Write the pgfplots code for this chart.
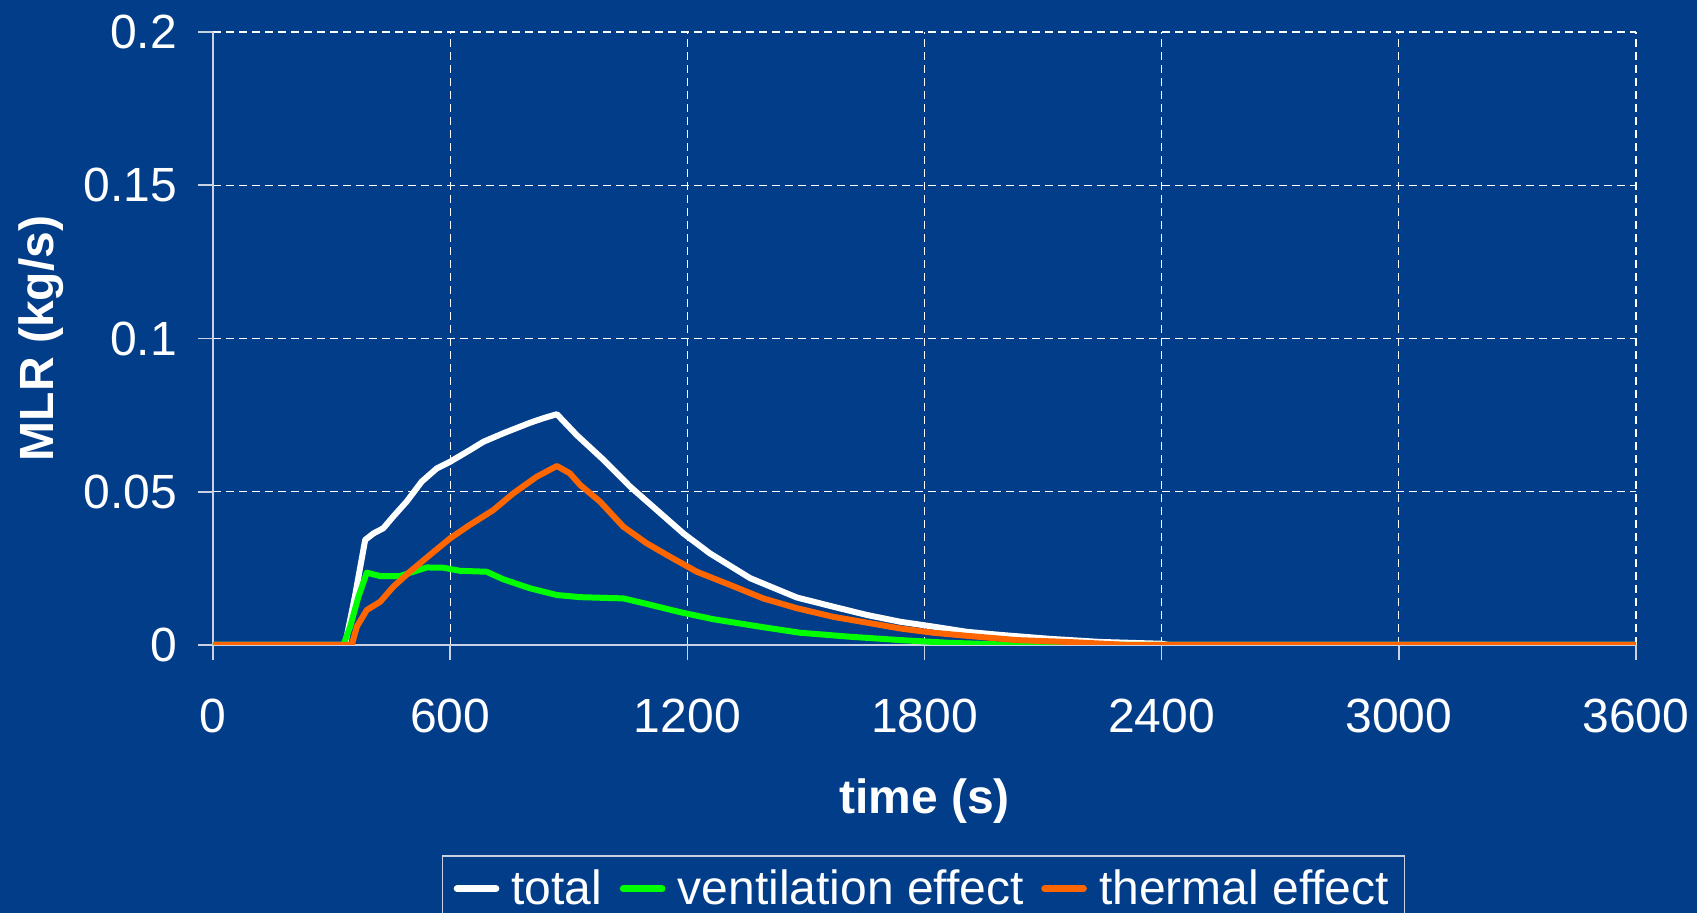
\documentclass[border=0pt]{standalone}
\usepackage{fontspec}
\setmainfont{Liberation Sans}
\usepackage{pgfplots}
\usepackage{pgfplotstable}
\pgfplotsset{compat=1.18}
\definecolor{bg}{RGB}{2,61,138}
\definecolor{axgray}{RGB}{200,210,228}
\definecolor{vgreen}{RGB}{0,255,0}
\definecolor{torange}{RGB}{255,102,0}
\pgfplotstableread{
t v
0 0
334 0
359 0.0158
385 0.0343
406 0.0364
431 0.0381
456 0.0419
490 0.0468
528 0.0533
566 0.0576
600 0.0598
650 0.0636
684 0.0663
735 0.0691
802 0.0725
836 0.0740
870 0.0753
920 0.0685
988 0.0604
1055 0.0517
1123 0.0440
1190 0.0364
1257 0.0299
1359 0.0218
1477 0.0155
1569 0.0125
1654 0.0098
1738 0.0076
1822 0.0060
1907 0.0043
1991 0.0033
2118 0.0020
2244 0.0010
2400 0.0004
2420 0
3600 0
}\total
\pgfplotstableread{
t v
0 0
330 0
347 0.0060
368 0.0158
389 0.0236
423 0.0225
473 0.0225
507 0.0239
541 0.0253
583 0.0252
625 0.0242
692 0.0239
735 0.0214
802 0.0185
870 0.0163
929 0.0156
1038 0.0152
1097 0.0134
1182 0.0107
1266 0.0084
1392 0.0058
1485 0.0040
1611 0.0027
1738 0.0016
1864 0.0007
1991 0.0002
2090 0
3600 0
}\vent
\pgfplotstableread{
t v
0 0
351 0
364 0.0060
389 0.0114
423 0.0141
456 0.0190
498 0.0239
549 0.0294
600 0.0348
650 0.0392
709 0.0440
760 0.0495
819 0.0549
870 0.0584
903 0.0560
929 0.0522
979 0.0468
1038 0.0386
1097 0.0332
1156 0.0288
1224 0.0239
1308 0.0196
1392 0.0152
1477 0.0120
1569 0.0092
1654 0.0073
1738 0.0054
1822 0.0040
1907 0.0030
2033 0.0016
2160 0.0010
2286 0.0002
2320 0
3600 0
}\thermal
\begin{document}
\begin{tikzpicture}
\fill[bg] (0,0) rectangle (848.5pt,456.5pt);
\begin{axis}[
 at={(106.5pt,134pt)}, anchor=south west,
 scale only axis, width=711.5pt, height=306.5pt,
 xmin=0,xmax=3600,ymin=0,ymax=0.2,
 axis x line=bottom, axis y line=left,
 axis line style={-, axgray, line width=1pt},
 xtick={0,600,...,3600}, xticklabels={0,600,1200,1800,2400,3000,3600},
 ytick={0,0.05,0.1,0.15,0.2}, yticklabels={0,0.05,0.1,0.15,0.2},
 tick align=outside, major tick length=7.5pt,
 tick style={axgray, line width=0.8pt},
 grid=major, grid style={white, solid, dash pattern=on 4pt off 2.5pt, line width=0.6pt},
 ticklabel style={font=\fontsize{24}{28}\selectfont, text=white},
 xticklabel style={yshift=-16pt},
 yticklabel style={xshift=-7pt},
 xlabel={time (s)}, ylabel={MLR (kg/s)},
 label style={font=\bfseries\fontsize{24}{28}\selectfont, text=white},
 xlabel style={at={(axis description cs:0.5,-0.2757)}, anchor=base},
 ylabel style={at={(axis description cs:-0.1122,0.5)}, anchor=base},
 legend style={at={(axis description cs:0.1606,-0.3426)}, anchor=north west,
   legend columns=-1, draw=axgray, fill=none, text=white, line width=0.8pt,
   font=\fontsize{24}{28}\selectfont, inner xsep=5.7pt, inner ysep=5pt,
   /tikz/every even column/.append style={column sep=6.8pt},
   /tikz/every odd column/.append style={column sep=4.1pt}},
 legend image code/.code={\draw[line width=3.3pt, line cap=round] (0pt,0pt) -- (19.5pt,0pt);},
 every axis plot/.append style={line width=3pt, line join=round},
]
\addplot[white] table[x=t,y=v] {\total};
\addplot[vgreen] table[x=t,y=v] {\vent};
\addplot[torange] table[x=t,y=v] {\thermal};
\legend{total, ventilation effect, thermal effect}
\end{axis}
\pgfresetboundingbox
\path[use as bounding box] (0,0) rectangle (848.5pt,456.5pt);
\end{tikzpicture}
\end{document}
